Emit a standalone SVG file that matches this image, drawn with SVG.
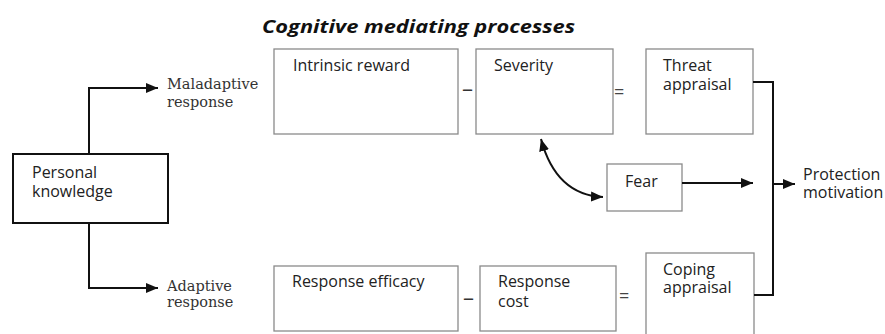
<svg xmlns="http://www.w3.org/2000/svg" width="885" height="334" viewBox="0 0 885 334">
  <style>
    .box { fill: #ffffff; stroke: #8a8a8a; stroke-width: 1.3; }
    .main { fill: #ffffff; stroke: #111111; stroke-width: 2; }
    .lbl { font-family: "Open Sans", "Liberation Sans", sans-serif; font-size: 16px; fill: #222222; }
    .ser { font-family: "DejaVu Serif", "Liberation Serif", serif; font-size: 14.5px; fill: #333333; }
    .op { font-family: "Open Sans", "Liberation Sans", sans-serif; font-size: 18px; fill: #444444; }
    .dash { font-family: "Open Sans", "Liberation Sans", sans-serif; font-size: 22px; fill: #333333; }
    .title { font-family: "Open Sans", "Liberation Sans", sans-serif; font-size: 17.5px; font-weight: bold; font-style: italic; fill: #111111; }
    .line { fill: none; stroke: #111111; stroke-width: 2; }
  </style>
  <defs>
    <marker id="arrow" markerUnits="userSpaceOnUse" markerWidth="12" markerHeight="10" refX="12" refY="5" orient="auto-start-reverse">
      <path d="M0,0 L12,5 L0,10 z" fill="#111111"/>
    </marker>
  </defs>

  <rect width="885" height="334" fill="#ffffff"/>

  <text class="title" x="262" y="33" textLength="313" lengthAdjust="spacingAndGlyphs">Cognitive mediating processes</text>

  <g id="personal-knowledge">
    <rect class="main" x="13" y="154" width="155" height="69"/>
    <text class="lbl" x="32" y="178">Personal</text>
    <text class="lbl" x="32" y="197">knowledge</text>
  </g>

  <g id="maladaptive-response">
    <text class="ser" x="167" y="89">Maladaptive</text>
    <text class="ser" x="167" y="107">response</text>
  </g>

  <g id="adaptive-response">
    <text class="ser" x="167" y="291">Adaptive</text>
    <text class="ser" x="167" y="307">response</text>
  </g>

  <g id="intrinsic-reward">
    <rect class="box" x="274" y="49" width="184" height="85"/>
    <text class="lbl" x="293" y="71">Intrinsic reward</text>
  </g>

  <g id="severity">
    <rect class="box" x="476" y="49" width="137" height="85"/>
    <text class="lbl" x="494" y="71">Severity</text>
  </g>

  <g id="threat-appraisal">
    <rect class="box" x="646" y="49" width="107" height="85"/>
    <text class="lbl" x="663" y="71">Threat</text>
    <text class="lbl" x="663" y="90">appraisal</text>
  </g>

  <g id="fear">
    <rect class="box" x="607" y="164" width="75" height="47"/>
    <text class="lbl" x="625" y="187">Fear</text>
  </g>

  <g id="response-efficacy">
    <rect class="box" x="274" y="266" width="184" height="65"/>
    <text class="lbl" x="292" y="287">Response efficacy</text>
  </g>

  <g id="response-cost">
    <rect class="box" x="480" y="266" width="136" height="65"/>
    <text class="lbl" x="498" y="287">Response</text>
    <text class="lbl" x="498" y="307">cost</text>
  </g>

  <g id="coping-appraisal">
    <rect class="box" x="646" y="253" width="108" height="90"/>
    <text class="lbl" x="663" y="275">Coping</text>
    <text class="lbl" x="663" y="293">appraisal</text>
  </g>

  <g id="protection-motivation">
    <text class="lbl" x="803" y="180">Protection</text>
    <text class="lbl" x="803" y="198">motivation</text>
  </g>

  <!-- arithmetic signs between the appraisal terms -->
  <g id="operators">
    <text class="dash" x="462" y="96">–</text>
    <text class="op" x="614" y="98">=</text>
    <text class="dash" x="463" y="305">–</text>
    <text class="op" x="619" y="302">=</text>
  </g>

  <g id="connectors">
    <path class="line" d="M89,154 V88 H158" marker-end="url(#arrow)"/>
    <path class="line" d="M89,223 V288 H158" marker-end="url(#arrow)"/>
    <path class="line" d="M541,139 Q556,195 603,197" marker-start="url(#arrow)" marker-end="url(#arrow)"/>
    <path class="line" d="M682,183 H753" marker-end="url(#arrow)"/>
    <path class="line" d="M753,82 H773 V295 H754"/>
    <path class="line" d="M773,184 H795" marker-end="url(#arrow)"/>
  </g>
</svg>
